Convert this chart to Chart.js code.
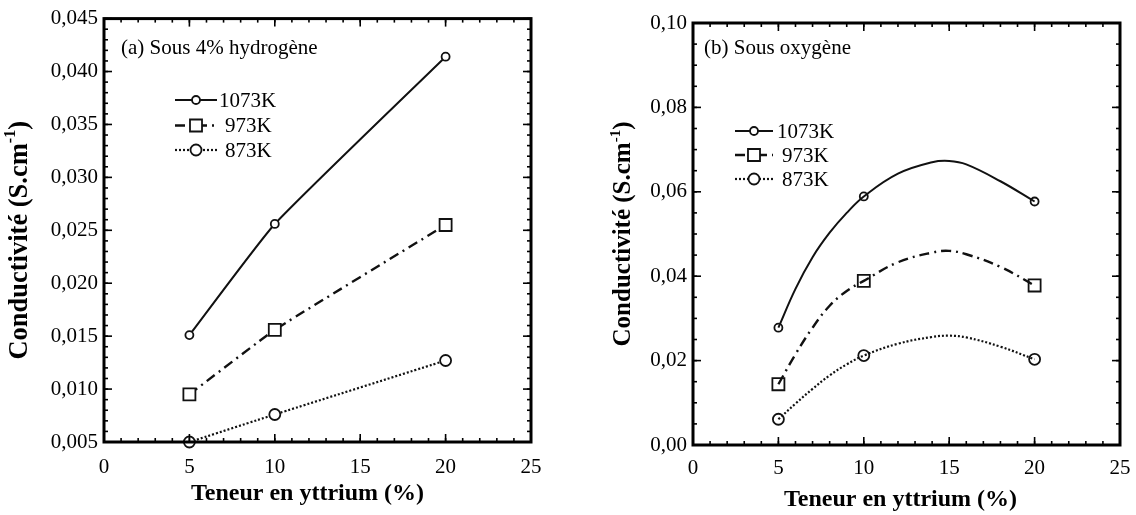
<!DOCTYPE html>
<html><head><meta charset="utf-8">
<script src="https://cdn.jsdelivr.net/npm/chart.js@4.4.1/dist/chart.umd.min.js"></script>
<style>
html,body{margin:0;padding:0;background:#fff;width:1136px;height:515px;overflow:hidden;}
#wa{position:absolute;left:0;top:0;width:560px;height:515px;}
#wb{position:absolute;left:568px;top:0;width:600px;height:515px;}
</style></head><body>
<div id="wa"><canvas id="ca" width="560" height="515"></canvas></div>
<div id="wb"><canvas id="cb" width="600" height="515"></canvas></div>
<script>
// ---------- data ----------
const seriesLabels = ['1073K', '973K', '873K'];
const yttrium = [5, 10, 20];
// (a) under 4% hydrogen
const hydrogen1073 = [0.0151, 0.0256, 0.0414];
const hydrogen973  = [0.0095, 0.0156, 0.0255];
const hydrogen873  = [0.0050, 0.0076, 0.0127];
// (b) under oxygen : measured points
const oxygen1073 = [0.0278, 0.0589, 0.0577];
const oxygen973  = [0.0144, 0.0389, 0.0378];
const oxygen873  = [0.0061, 0.0212, 0.0203];
// (b) fitted curves
const fitYttrium    = [5, 6, 7, 8, 9, 10, 12, 14, 15, 16, 18, 20];
const oxygenFit1073 = [0.0278, 0.0370, 0.0445, 0.0503, 0.0550, 0.0589, 0.0643, 0.0670, 0.0673, 0.0665, 0.0625, 0.0577];
const oxygenFit973  = [0.0144, 0.0215, 0.0278, 0.0330, 0.0365, 0.0389, 0.0433, 0.0456, 0.0460, 0.0452, 0.0422, 0.0378];
const oxygenFit873  = [0.0061, 0.0098, 0.0133, 0.0165, 0.0191, 0.0212, 0.0240, 0.0256, 0.0259, 0.0255, 0.0233, 0.0203];
const xTitle = 'Teneur en yttrium (%)';
const yTitleMain = 'Conductivité (S.cm';
const yTitleSup = '-1';
const panelTitles = ['(a) Sous 4% hydrogène', '(b) Sous oxygène'];

// ---------- styles ----------
const FONT = "'Liberation Serif', 'Times New Roman', serif";
Chart.defaults.font.family = FONT;
Chart.defaults.color = '#000';
const INK = '#111';
const styles = [
  { dash: [], width: 2, point: 'circle', r: 4 },
  { dash: [10, 5, 2, 5], width: 2.4, point: 'rect', r: 8.5 },
  { dash: [2, 2], width: 2.2, point: 'circle', r: 5.5 }
];
const pts = (xs, ys) => xs.map((x, i) => ({ x: x, y: ys[i] }));
const comma = (v, d) => (Math.round(v * 1e6) / 1e6).toFixed(d).replace('.', ',');

function drawMarker(ctx, st, x, y) {
  ctx.save();
  ctx.setLineDash([]);
  ctx.lineWidth = 1.8;
  ctx.strokeStyle = INK;
  ctx.fillStyle = '#fff';
  ctx.beginPath();
  if (st.point === 'rect') {
    const s = Math.SQRT1_2 * st.r;
    ctx.rect(x - s, y - s, 2 * s, 2 * s);
  } else {
    ctx.arc(x, y, st.r, 0, Math.PI * 2);
  }
  ctx.fill(); ctx.stroke();
  ctx.restore();
}

const decorPlugin = {
  id: 'decor',
  afterDraw(chart, args, o) {
    const ctx = chart.ctx, a = chart.chartArea, xs = chart.scales.x, ys = chart.scales.y;
    ctx.save();
    ctx.strokeStyle = '#000';
    ctx.lineWidth = 1.6;
    const seg = (x1, y1, x2, y2) => { ctx.beginPath(); ctx.moveTo(x1, y1); ctx.lineTo(x2, y2); ctx.stroke(); };
    const xTicks = (step, len) => {
      const n = Math.round((xs.max - xs.min) / step);
      for (let i = 0; i <= n; i++) {
        const px = xs.getPixelForValue(xs.min + i * step);
        seg(px, a.bottom, px, a.bottom - len); seg(px, a.top, px, a.top + len);
      }
    };
    const yTicks = (step, len) => {
      const n = Math.round((ys.max - ys.min) / step);
      for (let i = 0; i <= n; i++) {
        const py = ys.getPixelForValue(ys.min + i * step);
        seg(a.left, py, a.left + len, py); seg(a.right, py, a.right - len, py);
      }
    };
    xTicks(o.xMinor, 4); xTicks(o.xMajor, 8);
    yTicks(o.yMinor, 4); yTicks(o.yMajor, 8);
    ctx.lineWidth = 3;
    ctx.strokeRect(a.left, a.top, a.right - a.left, a.bottom - a.top);
    ctx.fillStyle = '#000';
    ctx.font = '21px ' + FONT;
    ctx.textBaseline = 'middle';
    ctx.textAlign = 'left';
    ctx.fillText(o.panel, o.panelX, o.panelY);
    seriesLabels.forEach((lab, i) => {
      const st = styles[i], y = o.legRows[i];
      ctx.save();
      ctx.strokeStyle = INK; ctx.lineWidth = st.width; ctx.setLineDash(st.dash);
      seg(o.legX0, y, o.legX1, y);
      ctx.restore();
      drawMarker(ctx, st, (o.legX0 + o.legX1) / 2, y);
      ctx.fillStyle = '#000';
      ctx.font = '21px ' + FONT;
      ctx.textBaseline = 'middle';
      ctx.fillText(lab, o.legText[i], y + 1);
    });
    ctx.font = 'bold 24px ' + FONT;
    ctx.textAlign = 'center';
    ctx.textBaseline = 'middle';
    ctx.fillText(xTitle, (a.left + a.right) / 2 + o.xTitleDX, o.xTitleY);
    ctx.save();
    ctx.translate(o.yTitleX, (a.top + a.bottom) / 2 + o.yTitleDY);
    ctx.rotate(-Math.PI / 2);
    const mainFont = 'bold ' + o.yTitleSize + 'px ' + FONT;
    const supFont = 'bold ' + Math.round(o.yTitleSize * 0.6) + 'px ' + FONT;
    ctx.font = mainFont; const w1 = ctx.measureText(yTitleMain).width;
    ctx.font = supFont; const w2 = ctx.measureText(yTitleSup).width;
    ctx.font = mainFont; const w3 = ctx.measureText(')').width;
    const x0 = -(w1 + w2 + w3) / 2;
    ctx.textAlign = 'left';
    ctx.fillText(yTitleMain, x0, 0);
    ctx.font = supFont; ctx.fillText(yTitleSup, x0 + w1, -o.yTitleSize * 0.33);
    ctx.font = mainFont; ctx.fillText(')', x0 + w1 + w2, 0);
    ctx.restore();
    ctx.restore();
  }
};

function lineDs(label, data, st, withPoints, tension) {
  return {
    label: label, data: data, showLine: true, borderColor: INK, borderWidth: st.width,
    borderDash: st.dash, tension: tension, clip: false, fill: false,
    pointStyle: st.point, pointRadius: withPoints ? st.r : 0, pointHoverRadius: withPoints ? st.r : 0,
    pointBorderWidth: 1.8, pointBorderColor: INK, pointBackgroundColor: '#fff'
  };
}
function pointDs(label, data, st) {
  return {
    label: label, data: data, showLine: false, clip: false,
    pointStyle: st.point, pointRadius: st.r, pointHoverRadius: st.r,
    pointBorderWidth: 1.8, pointBorderColor: INK, pointBackgroundColor: '#fff'
  };
}

function makeOptions(cfg) {
  return {
    responsive: false, animation: false, events: [],
    layout: { padding: { left: 0, top: cfg.padTop, right: cfg.padRight, bottom: 0 } },
    plugins: { legend: { display: false }, tooltip: { enabled: false }, decor: cfg.decor },
    scales: {
      x: {
        type: 'linear', min: 0, max: 25,
        ticks: { stepSize: 5, padding: cfg.xPad, font: { size: 21 }, color: '#000', maxRotation: 0, callback: v => String(v) },
        grid: { display: false, drawTicks: false }, border: { display: false },
        afterFit: s => { s.height = cfg.xHeight; }
      },
      y: {
        type: 'linear', min: cfg.yMin, max: cfg.yMax,
        ticks: { stepSize: cfg.yStep, padding: 6, font: { size: 21 }, color: '#000', callback: v => comma(v, cfg.yDec) },
        grid: { display: false, drawTicks: false }, border: { display: false },
        afterFit: s => { s.width = cfg.yWidth; }
      }
    }
  };
}

new Chart(document.getElementById('ca'), {
  type: 'scatter',
  data: { datasets: [
    lineDs(seriesLabels[0], pts(yttrium, hydrogen1073), styles[0], true, 0.15),
    lineDs(seriesLabels[1], pts(yttrium, hydrogen973), styles[1], true, 0.1),
    lineDs(seriesLabels[2], pts(yttrium, hydrogen873), styles[2], true, 0.1)
  ] },
  options: makeOptions({
    padTop: 18, padRight: 29, xHeight: 73, yWidth: 104, xPad: 13,
    yMin: 0.005, yMax: 0.045, yStep: 0.005, yDec: 3,
    decor: {
      xMajor: 5, xMinor: 1, yMajor: 0.005, yMinor: 0.001,
      panel: panelTitles[0], panelX: 121, panelY: 48,
      legX0: 175, legX1: 217, legRows: [100, 125.5, 150], legText: [219, 225, 225],
      xTitleDX: -10, xTitleY: 494, yTitleX: 20, yTitleDY: 10, yTitleSize: 26.5
    }
  }),
  plugins: [decorPlugin]
});

new Chart(document.getElementById('cb'), {
  type: 'scatter',
  data: { datasets: [
    lineDs(seriesLabels[0] + ' fit', pts(fitYttrium, oxygenFit1073), styles[0], false, 0.4),
    lineDs(seriesLabels[1] + ' fit', pts(fitYttrium, oxygenFit973), styles[1], false, 0.4),
    lineDs(seriesLabels[2] + ' fit', pts(fitYttrium, oxygenFit873), styles[2], false, 0.4),
    pointDs(seriesLabels[0], pts(yttrium, oxygen1073), styles[0]),
    pointDs(seriesLabels[1], pts(yttrium, oxygen973), styles[1]),
    pointDs(seriesLabels[2], pts(yttrium, oxygen873), styles[2])
  ] },
  options: makeOptions({
    padTop: 23, padRight: 48, xHeight: 70, yWidth: 125, xPad: 11,
    yMin: 0, yMax: 0.10, yStep: 0.02, yDec: 2,
    decor: {
      xMajor: 5, xMinor: 1, yMajor: 0.02, yMinor: 0.005,
      panel: panelTitles[1], panelX: 136, panelY: 48,
      legX0: 167, legX1: 205, legRows: [131, 155, 179], legText: [209, 214, 214],
      xTitleDX: -6, xTitleY: 500, yTitleX: 56, yTitleDY: 0, yTitleSize: 25
    }
  }),
  plugins: [decorPlugin]
});
</script>
</body></html>
